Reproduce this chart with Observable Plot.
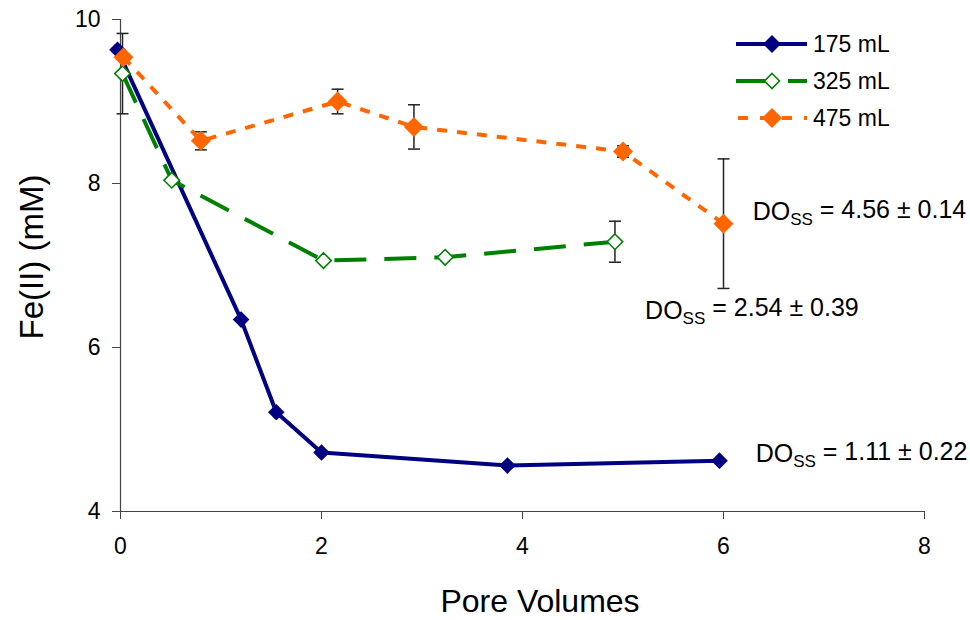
<!DOCTYPE html>
<html>
<head>
<meta charset="utf-8">
<script src="https://cdn.jsdelivr.net/npm/d3@7"></script>
<script src="https://cdn.jsdelivr.net/npm/@observablehq/plot@0.6"></script>
<style>
  html, body { margin: 0; padding: 0; background: #fff; }
  #chart { position: relative; width: 970px; height: 620px; font-family: "Liberation Sans", Arial, sans-serif; }
</style>
</head>
<body>
<div id="chart"></div>
<script>
// ---- data ----
const seriesNames = ["175 mL", "325 mL", "475 mL"];
const seriesColors = ["#000080", "#008000", "#FF6600"];
const seriesDash = [null, "32,18", "10,10"];

const pv175 = [-0.03, 1.20, 1.55, 2.00, 3.85, 5.96];
const fe175 = [9.63, 6.34, 5.21, 4.72, 4.56, 4.62];

const pv325 = [0.02, 0.51, 2.02, 3.23, 4.92];
const fe325 = [9.34, 8.04, 7.06, 7.10, 7.29];
const err325 = [0.49, null, null, null, 0.25];

const pv475 = [0.03, 0.80, 2.16, 2.92, 5.00, 6.00];
const fe475 = [9.54, 8.52, 9.00, 8.69, 8.39, 7.51];
const err475 = [null, 0.11, 0.15, 0.27, 0.07, 0.79];

const annX = [6.29, 5.22, 6.32];
const annY = [7.65, 6.45, 4.70];
const annText = ["4.56 ± 0.14", "2.54 ± 0.39", "1.11 ± 0.22"];

const xTicks = [0, 2, 4, 6, 8];
const yTicks = [4, 6, 8, 10];
const xTitle = "Pore Volumes";
const yTitle = "Fe(II) (mM)";

// ---- build tables ----
const s175 = pv175.map((x, i) => ({x, y: fe175[i]}));
const s325 = pv325.map((x, i) => ({x, y: fe325[i], e: err325[i]}));
const s475 = pv475.map((x, i) => ({x, y: fe475[i], e: err475[i]}));
const errs = [...s325, ...s475].filter(d => d.e != null)
  .map(d => ({x: d.x, y1: d.y - d.e, y2: d.y + d.e}));
const ann = annX.map((x, i) => ({x, y: annY[i], t: annText[i]}));

const capSymbol = { draw(ctx) { ctx.moveTo(-6, 0); ctx.lineTo(6, 0); } };

const font = "Liberation Sans, Arial, sans-serif";

const svg = Plot.plot({
  width: 970,
  height: 620,
  marginLeft: 120,
  marginRight: 46,
  marginTop: 19,
  marginBottom: 109,
  style: { fontFamily: font, background: "#fff", color: "#000", overflow: "visible" },
  x: { domain: [0, 8] },
  y: { domain: [4, 10] },
  marks: [
    Plot.axisX({ ticks: xTicks, tickFormat: d => String(d), tickSize: 8, tickPadding: 18, fontSize: 23, label: null, stroke: "#444", fill: "#000" }),
    Plot.axisY({ ticks: yTicks, tickFormat: d => String(d), tickSize: 8, tickPadding: 12, fontSize: 23, label: null, stroke: "#444", fill: "#000" }),
    Plot.ruleX([0], { stroke: "#444", strokeWidth: 1.2 }),
    Plot.ruleY([4], { stroke: "#444", strokeWidth: 1.2 }),
    // error bars
    Plot.ruleX(errs, { x: "x", y1: "y1", y2: "y2", stroke: "#222", strokeWidth: 1.5 }),
    Plot.dot(errs, { x: "x", y: "y1", symbol: capSymbol, stroke: "#222", strokeWidth: 1.5, fill: "none" }),
    Plot.dot(errs, { x: "x", y: "y2", symbol: capSymbol, stroke: "#222", strokeWidth: 1.5, fill: "none" }),
    // 175 mL
    Plot.line(s175, { x: "x", y: "y", stroke: seriesColors[0], strokeWidth: 4 }),
    Plot.dot(s175, { x: "x", y: "y", symbol: "diamond2", r: 7.5, fill: seriesColors[0] }),
    // 325 mL
    Plot.line(s325, { x: "x", y: "y", stroke: seriesColors[1], strokeWidth: 4, strokeDasharray: seriesDash[1], strokeLinecap: "butt" }),
    Plot.dot(s325, { x: "x", y: "y", symbol: "diamond2", r: 7, fill: "#fff", stroke: seriesColors[1], strokeWidth: 1.6 }),
    // 475 mL
    Plot.line(s475, { x: "x", y: "y", stroke: seriesColors[2], strokeWidth: 4, strokeDasharray: seriesDash[2], strokeLinecap: "butt" }),
    Plot.dot(s475, { x: "x", y: "y", symbol: "diamond2", r: 9, fill: seriesColors[2] }),
    // annotations
    Plot.text(ann, { x: "x", y: "y", text: "t", textAnchor: "start", fontSize: 25, fill: "#000" })
  ]
});

document.getElementById("chart").appendChild(svg);
const S = d3.select(svg);

// tick label size (force)
const tickStrings = new Set([...xTicks, ...yTicks].map(String));
S.selectAll("text").each(function () {
  if (tickStrings.has(this.textContent)) {
    this.setAttribute("font-size", "23");
    this.style.setProperty("font-size", "23px", "important");
  }
});

// subscript annotations
S.selectAll("text").each(function () {
  const val = this.textContent;
  if (!annText.includes(val)) return;
  const node = d3.select(this);
  node.selectAll("*").remove();
  node.text(null);
  node.append("tspan").text("DO");
  node.append("tspan").attr("dy", "0.3em").attr("font-size", "17px").text("SS");
  node.append("tspan").attr("dy", "-0.3em").text(" = " + val);
});

// axis titles
S.append("text")
  .attr("x", 540).attr("y", 612)
  .attr("text-anchor", "middle")
  .attr("font-size", 32).attr("font-family", font).attr("fill", "#000")
  .text(xTitle);
S.append("text")
  .attr("transform", "translate(43,257) rotate(-90)")
  .attr("text-anchor", "middle")
  .attr("font-size", 33).attr("font-family", font).attr("fill", "#000")
  .text(yTitle);

// legend
const leg = S.append("g").attr("font-family", font).attr("text-anchor", "start");
const legRows = [44, 81, 118];
const markerDefs = [
  { r: 9, fill: seriesColors[0], stroke: "none" },
  { r: 7.5, fill: "#fff", stroke: seriesColors[1] },
  { r: 10, fill: seriesColors[2], stroke: "none" }
];
seriesNames.forEach((name, i) => {
  const y = legRows[i];
  const ln = leg.append("line").attr("x1", 736).attr("x2", 807).attr("y1", y).attr("y2", y)
    .attr("stroke", seriesColors[i]).attr("stroke-width", 4);
  if (seriesDash[i]) ln.attr("stroke-dasharray", i === 1 ? "30,22" : "10,12").attr("stroke-dashoffset", i === 2 ? -2 : 0);
  const m = markerDefs[i];
  const r = m.r;
  leg.append("path")
    .attr("d", `M772,${y - r}L${772 + r},${y}L772,${y + r}L${772 - r},${y}Z`)
    .attr("fill", m.fill).attr("stroke", m.stroke).attr("stroke-width", 1.6);
  leg.append("text").attr("x", 813).attr("y", y).attr("dy", "0.36em").attr("text-anchor", "start")
    .attr("font-size", 23).attr("fill", "#000").text(name);
});
</script>
</body>
</html>
